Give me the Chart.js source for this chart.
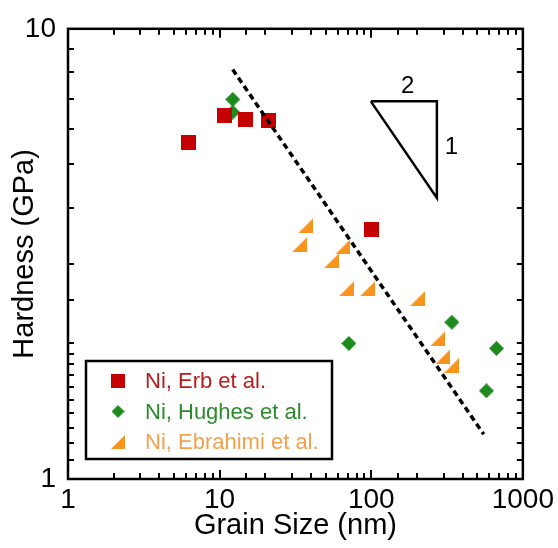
<!DOCTYPE html>
<html lang="en">
<head>
<meta charset="UTF-8">
<title>Hardness vs Grain Size</title>
<script src="https://cdn.jsdelivr.net/npm/chart.js"></script>
<style>
  body { margin: 0; background: #fff; }
  #wrap { width: 558px; height: 548px; position: relative; }
</style>
</head>
<body>
<div id="wrap"><canvas id="hpChart"></canvas></div>
<script>
// grain size (nm) / hardness (GPa) for each source
const erbSize = [6.2, 10.8, 14.9, 21.1, 101];
const erbHardness = [5.6, 6.43, 6.3, 6.26, 3.58];

const hughesSize = [12.2, 12.2, 71.2, 340, 670, 575];
const hughesHardness = [6.97, 6.53, 2.0, 2.23, 1.95, 1.57];

const ebrahimiSize = [37.1, 33.8, 65.0, 55.0, 69.0, 95.0, 203, 275, 297, 340];
const ebrahimiHardness = [3.66, 3.32, 3.28, 3.06, 2.65, 2.65, 2.52, 2.05, 1.87, 1.79];

// dashed guide line and the 2:1 slope triangle
const fitSize = [12.2, 552];
const fitHardness = [8.12, 1.257];
const triSize = [99.4, 271, 271, 99.4];
const triHardness = [6.9, 6.9, 4.21, 6.9];
const slopeLabels = [
  { text: '2', x: 174, y: 7.45 },
  { text: '1', x: 338, y: 5.46 }
];

const seriesLabels = ['Ni, Erb et al.', 'Ni, Hughes et al.', 'Ni, Ebrahimi et al.'];
const xTickLabels = [1, 10, 100, 1000];
const yTickLabels = [1, 10];

const RED = '#c40000';
const GREEN = '#1d8a1d';
const ORANGE = '#f7941e';
const FONT = '"Liberation Sans", Arial, Helvetica, sans-serif';

function toPoints(xs, ys) {
  return xs.map((x, i) => ({ x: x, y: ys[i] }));
}

function isDecade(v) {
  const l = Math.log10(v);
  return Math.abs(l - Math.round(l)) < 1e-6;
}

// small canvas used as a point style
function makeMarker(kind, size, color) {
  const c = document.createElement('canvas');
  c.width = size;
  c.height = size;
  const g = c.getContext('2d');
  g.fillStyle = color;
  g.beginPath();
  if (kind === 'square') {
    g.rect(0, 0, size, size);
  } else if (kind === 'diamond') {
    g.moveTo(size / 2, 0);
    g.lineTo(size, size / 2);
    g.lineTo(size / 2, size);
    g.lineTo(0, size / 2);
  } else {
    // right triangle, vertical edge on the right
    g.moveTo(0, size);
    g.lineTo(size, size);
    g.lineTo(size, 0);
  }
  g.closePath();
  g.fill();
  return c;
}

const textColors = ['#b81c1c', '#2b8a2b', '#f5a04c'];
const plotMarkers = [makeMarker('square', 15, RED), makeMarker('diamond', 15, GREEN), makeMarker('triangle', 15, ORANGE)];
const legendMarkers = [makeMarker('square', 14, RED), makeMarker('diamond', 13, GREEN), makeMarker('triangle', 14, ORANGE)];

// frame, inward ticks, slope labels and the boxed legend
const framePlugin = {
  id: 'frame',
  afterDraw(chart) {
    const { ctx, chartArea: a, scales: { x, y } } = chart;
    ctx.save();
    ctx.setLineDash([]);
    ctx.lineCap = 'butt';
    ctx.strokeStyle = '#000';
    ctx.lineWidth = 2;
    ctx.beginPath();
    x.ticks.forEach(t => {
      const px = Math.round(x.getPixelForValue(t.value));
      const len = isDecade(t.value) ? 9 : 6;
      ctx.moveTo(px, a.bottom); ctx.lineTo(px, a.bottom - len);
      ctx.moveTo(px, a.top); ctx.lineTo(px, a.top + len);
    });
    y.ticks.forEach(t => {
      const py = Math.round(y.getPixelForValue(t.value));
      const len = isDecade(t.value) ? 9 : 6;
      ctx.moveTo(a.left, py); ctx.lineTo(a.left + len, py);
      ctx.moveTo(a.right, py); ctx.lineTo(a.right - len, py);
    });
    ctx.stroke();
    ctx.lineWidth = 2.5;
    ctx.strokeRect(a.left, a.top, a.right - a.left, a.bottom - a.top);

    // slope triangle labels
    ctx.fillStyle = '#000';
    ctx.font = '24px ' + FONT;
    ctx.textAlign = 'center';
    ctx.textBaseline = 'middle';
    slopeLabels.forEach(l => {
      ctx.fillText(l.text, x.getPixelForValue(l.x), y.getPixelForValue(l.y));
    });

    // legend box in the lower left corner
    const bx = a.left + 18, by = a.bottom - 118, bw = 246, bh = 98;
    ctx.fillStyle = '#fff';
    ctx.fillRect(bx, by, bw, bh);
    ctx.lineWidth = 2.5;
    ctx.strokeRect(bx, by, bw, bh);
    ctx.font = '22px ' + FONT;
    ctx.textAlign = 'left';
    seriesLabels.forEach((lab, i) => {
      const cy = by + 20 + i * 30.5;
      const m = legendMarkers[i];
      ctx.drawImage(m, bx + 32 - m.width / 2, cy - m.height / 2);
      ctx.fillStyle = textColors[i];
      ctx.fillText(lab, bx + 59, cy + 1);
    });
    ctx.restore();
  }
};

const ctx = document.getElementById('hpChart').getContext('2d');
new Chart(ctx, {
  type: 'scatter',
  data: {
    datasets: [
      {
        type: 'line',
        label: 'fit',
        data: toPoints(fitSize, fitHardness),
        borderColor: '#000',
        borderWidth: 3.5,
        borderDash: [6, 4],
        pointRadius: 0,
        fill: false,
        order: 0
      },
      {
        type: 'line',
        label: 'slope',
        data: toPoints(triSize, triHardness),
        borderColor: '#000',
        borderWidth: 2.5,
        pointRadius: 0,
        fill: false,
        order: 0
      },
      {
        label: seriesLabels[0],
        data: toPoints(erbSize, erbHardness),
        pointStyle: plotMarkers[0],
        order: 1
      },
      {
        label: seriesLabels[1],
        data: toPoints(hughesSize, hughesHardness),
        pointStyle: plotMarkers[1],
        order: 1
      },
      {
        label: seriesLabels[2],
        data: toPoints(ebrahimiSize, ebrahimiHardness),
        pointStyle: plotMarkers[2],
        order: 1
      }
    ]
  },
  options: {
    responsive: true,
    maintainAspectRatio: false,
    animation: false,
    layout: { padding: { top: 26, right: 35, left: 0, bottom: 0 } },
    plugins: {
      legend: { display: false },
      tooltip: { enabled: false }
    },
    scales: {
      x: {
        type: 'logarithmic',
        min: 1,
        max: 1000,
        grid: { display: false, drawTicks: false },
        border: { display: false },
        ticks: {
          autoSkip: false,
          maxRotation: 0,
          padding: 4,
          color: '#000',
          font: { family: FONT, size: 28 },
          callback: v => xTickLabels.includes(Math.round(v)) && isDecade(v) ? String(Math.round(v)) : ''
        },
        title: {
          display: true,
          text: 'Grain Size (nm)',
          color: '#000',
          font: { family: FONT, size: 29 },
          padding: { top: 0, bottom: 5 }
        },
        afterFit: s => { s.height = 69; }
      },
      y: {
        type: 'logarithmic',
        min: 1,
        max: 10,
        grid: { display: false, drawTicks: false },
        border: { display: false },
        ticks: {
          autoSkip: false,
          padding: 12,
          color: '#000',
          font: { family: FONT, size: 28 },
          callback: v => yTickLabels.includes(Math.round(v)) && isDecade(v) ? String(Math.round(v)) : ''
        },
        title: {
          display: true,
          text: 'Hardness (GPa)',
          color: '#000',
          font: { family: FONT, size: 29 },
          padding: { top: 8, bottom: 0 }
        },
        afterFit: s => { s.width = 68; }
      }
    }
  },
  plugins: [framePlugin]
});
</script>
</body>
</html>
